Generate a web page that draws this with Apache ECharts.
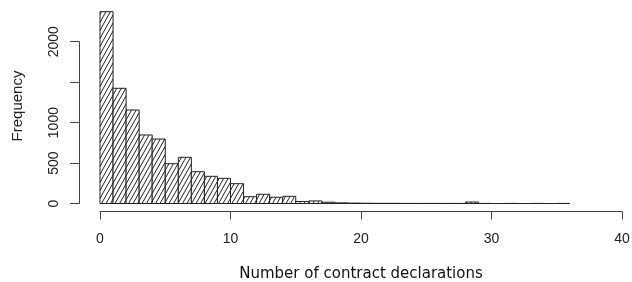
<!DOCTYPE html>
<html>
<head>
    <meta charset="utf-8">
    <script src="https://cdn.jsdelivr.net/npm/echarts@6/dist/echarts.min.js"></script>
    <style>
        html, body { margin: 0; padding: 0; background: #fff; }
        #main { width: 632px; height: 282px; }
    </style>
</head>
<body>
<div id="main"></div>
<script>
    // histogram bins (width 1) and their counts
    var binStarts = [0, 1, 2, 3, 4, 5, 6, 7, 8, 9, 10, 11, 12, 13, 14, 15, 16, 17,
        18, 19, 20, 21, 22, 23, 24, 25, 26, 27, 28, 29, 30, 31, 32, 33, 34, 35];
    var counts = [2371, 1424, 1156, 847, 797, 492, 571, 393, 336, 311, 245, 84, 114, 77, 89, 25, 32, 16,
        8, 5, 3, 2, 2, 1, 1, 1, 1, 1, 18, 1, 0, 1, 0, 1, 0, 1];
    var xTicks = [0, 10, 20, 30, 40];
    var yTicks = [0, 500, 1000, 1500, 2000];
    var yShown = [0, 500, 1000, 2000];

    var data = binStarts.map(function (lo, i) {
        return [lo, lo + 1, counts[i]];
    });

    // diagonal hatching like R's density/angle shading
    var tile = document.createElement('canvas');
    tile.width = 9;
    tile.height = 16;
    var ctx = tile.getContext('2d');
    ctx.fillStyle = '#fff';
    ctx.fillRect(0, 0, 9, 16);
    ctx.strokeStyle = '#222';
    ctx.lineWidth = 1;
    ctx.beginPath();
    [-9, -4.5, 0, 4.5, 9].forEach(function (dx) {
        ctx.moveTo(dx, 16);
        ctx.lineTo(dx + 9, 0);
    });
    ctx.stroke();
    var hatch = {image: tile, repeat: 'repeat'};

    var chart = echarts.init(document.getElementById('main'), null, {renderer: 'canvas'});

    var axisColor = '#444';
    var font = 'Liberation Sans, Arial, sans-serif';

    chart.setOption({
        animation: false,
        backgroundColor: '#fff',
        grid: {left: 100, right: 10, top: 41.7, bottom: 78.5, containLabel: false, outerBoundsMode: 'none'},
        xAxis: {
            type: 'value',
            min: xTicks[0],
            max: xTicks[xTicks.length - 1],
            interval: 10,
            offset: 8,
            name: 'Number of contract declarations',
            nameLocation: 'middle',
            nameGap: 55,
            nameTextStyle: {fontFamily: 'DejaVu Sans', fontSize: 15, color: '#111'},
            axisLine: {show: true, onZero: false, lineStyle: {color: axisColor, width: 1}},
            axisTick: {show: true, length: 8, lineStyle: {color: axisColor}},
            axisLabel: {margin: 21, fontFamily: font, fontSize: 14, color: '#222'},
            splitLine: {show: false}
        },
        yAxis: {
            type: 'value',
            min: yTicks[0],
            max: yTicks[yTicks.length - 1],
            interval: 500,
            offset: 21,
            axisLine: {show: true, onZero: false, lineStyle: {color: axisColor, width: 1}},
            axisTick: {show: true, length: 9, lineStyle: {color: axisColor}},
            axisLabel: {
                rotate: 90,
                margin: 18,
                fontFamily: font,
                fontSize: 14,
                color: '#222',
                formatter: function (v) {
                    return yShown.indexOf(v) >= 0 ? String(v) : '';
                }
            },
            splitLine: {show: false}
        },
        graphic: [{
            type: 'text',
            x: 18,
            y: 106,
            rotation: Math.PI / 2,
            style: {
                text: 'Frequency',
                fontFamily: font,
                fontSize: 15,
                fill: '#222',
                align: 'center',
                verticalAlign: 'middle'
            }
        }],
        series: [{
            type: 'custom',
            clip: false,
            data: data,
            encode: {x: [0, 1], y: 2},
            renderItem: function (params, api) {
                var topLeft = api.coord([api.value(0), api.value(2)]);
                var bottomRight = api.coord([api.value(1), 0]);
                return {
                    type: 'rect',
                    shape: {
                        x: topLeft[0],
                        y: topLeft[1],
                        width: bottomRight[0] - topLeft[0],
                        height: bottomRight[1] - topLeft[1]
                    },
                    style: {fill: hatch, stroke: '#222', lineWidth: 1}
                };
            }
        }]
    });
</script>
</body>
</html>
